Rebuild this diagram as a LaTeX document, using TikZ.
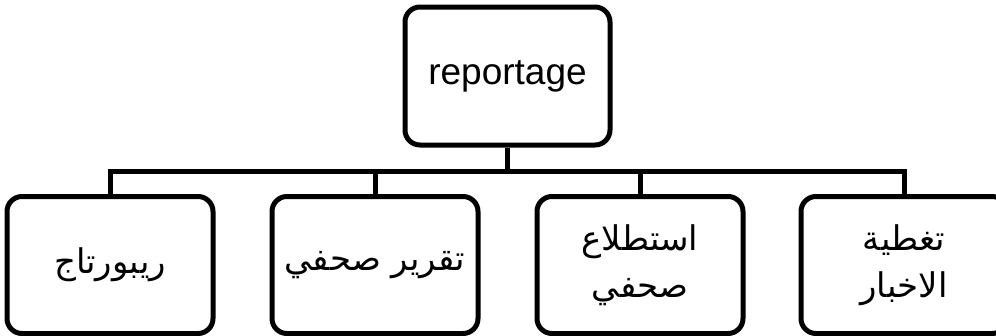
\documentclass[tikz,border=0pt]{standalone}
\usepackage{fontspec}
\setmainfont{Liberation Sans}
\newfontfamily\arabicfont[Script=Arabic]{DejaVu Sans}
\TeXXeTstate=1
\begin{document}
\begin{tikzpicture}[x=1pt,y=-1pt,
  orgbox/.style={draw=black, line width=5pt, rounded corners=15pt, fill=white,
    minimum width=206pt, minimum height=137pt, inner sep=0pt, align=center},
  topbox/.style={orgbox, minimum width=205pt, minimum height=138pt},
  conn/.style={draw=black, line width=5pt},
  lbl/.style={font=\fontsize{37}{40}\selectfont},
  albl/.style={font=\arabicfont\fontsize{34}{47}\selectfont}]
\useasboundingbox (0,0) rectangle (996,335);
\node[topbox, lbl] (top) at (507.5,76) {reportage};
\node[orgbox, albl] (b1) at (110,265) {\beginR ريبورتاج\endR};
\node[orgbox, albl] (b2) at (375,265) {\beginR تقرير صحفي\endR};
\node[orgbox, albl] (b3) at (640,265) {\beginR استطلاع\endR\\\beginR صحفي\endR};
\node[orgbox, albl] (b4) at (904,265) {\beginR تغطية\endR\\\beginR الاخبار\endR};
\coordinate (j) at (507.5,171);
\draw[conn] (top.south) -- (j);
\draw[conn] (b1.north) |- (j);
\draw[conn] (b2.north) |- (j);
\draw[conn] (b3.north) |- (j);
\draw[conn] (b4.north) |- (j);
\end{tikzpicture}
\end{document}
